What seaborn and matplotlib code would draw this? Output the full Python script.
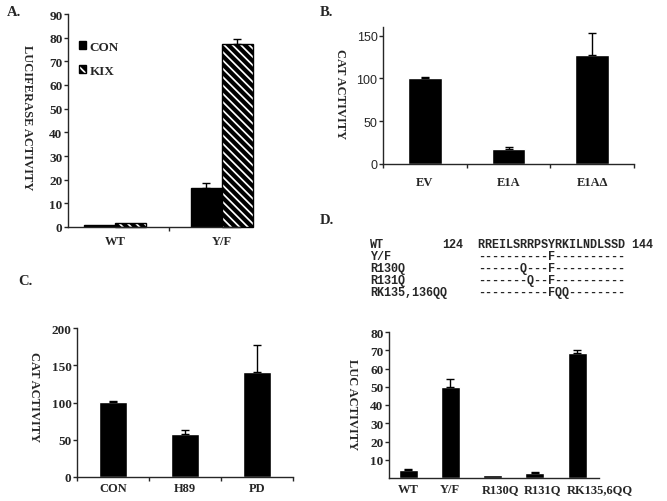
import matplotlib
matplotlib.use('Agg')
import matplotlib.pyplot as plt
import matplotlib.transforms as mtrans
import seaborn as sns
import pandas as pd

# ---- data ----
# Panel A
a_groups = ['WT', 'Y/F']
a_con = [1.0, 16.5]
a_con_err = [0.0, 2.0]
a_kix = [1.5, 77.3]
a_kix_err = [0.0, 2.3]

# Panel B
b_groups = ['EV', 'E1A', 'E1A\u0394']
b_vals = [100, 17, 127]
b_err = [2, 2.5, 26]

# Panel C
c_groups = ['CON', 'H89', 'PD']
c_vals = [100.5, 58, 140.5]
c_err = [1.5, 4.5, 37]

# Panel D
d_groups = ['WT', 'Y/F', 'R130Q', 'R131Q', 'RK135,6QQ']
d_vals = [4.2, 50, 1.6, 2.7, 68.5]
d_err = [0.5, 4, 0, 0.6, 1.8]

seq_names = ['WT', 'Y/F', 'R130Q', 'R131Q', 'RK135,136QQ']
seq_lines = ['RREILSRRPSYRKILNDLSSD 144',
             '----------F----------',
             '------Q---F----------',
             '-------Q--F----------',
             '----------FQQ--------']

sns.set_style('ticks')
plt.rcParams['font.family'] = ['Liberation Serif', 'DejaVu Serif']
plt.rcParams['font.weight'] = 'bold'
plt.rcParams['axes.linewidth'] = 1.0
plt.rcParams['hatch.linewidth'] = 3.0

W, H = 667, 502
fig = plt.figure(figsize=(W / 100, H / 100), dpi=100)


def box(left, top, right, bottom):
    return fig.add_axes([left / W, 1 - bottom / H, (right - left) / W, (bottom - top) / H])


def add_err(ax, container, errs):
    for bar, e in zip(container, errs):
        if e > 0:
            x = bar.get_x() + bar.get_width() / 2
            ax.errorbar(x, bar.get_height(), yerr=[[0], [e]], color='black',
                        lw=1, capsize=3, capthick=1, clip_on=False)


def style(ax, ylabel, lx, ly, tick_font, pad):
    sns.despine(ax=ax)
    ax.set_xlabel('')
    ax.set_ylabel(ylabel, rotation=270, fontsize=9, fontweight='bold',
                  ha='center', va='center')
    ax.yaxis.set_label_coords(lx, ly)
    ax.tick_params(axis='x', length=0, labelsize=9, pad=pad)
    ax.tick_params(axis='y', length=3, width=1, labelsize=tick_font[2], pad=1)
    for t in ax.get_xticklabels():
        t.set_fontweight('bold')
    for t in ax.get_yticklabels():
        t.set_fontfamily(tick_font[0])
        t.set_fontweight(tick_font[1])


# ---- Panel A ----
axA = box(68, 15, 256, 228)
dfA = pd.DataFrame({'group': a_groups * 2,
                    'treat': ['CON'] * 2 + ['KIX'] * 2,
                    'value': a_con + a_kix})
sns.barplot(data=dfA, x='group', y='value', hue='treat',
            palette={'CON': 'black', 'KIX': 'white'}, width=0.58,
            edgecolor='black', linewidth=1, errorbar=None, legend=False, ax=axA)
for bar in axA.containers[1]:
    bar.set_hatch('\\\\\\\\')
    bar.set_clip_on(False)
add_err(axA, axA.containers[0], a_con_err)
add_err(axA, axA.containers[1], a_kix_err)
axA.set_xlim(-0.44, 1.318)
axA.set_ylim(0, 90)
axA.set_yticks(range(0, 91, 10))
axA.spines['bottom'].set_bounds(-0.44, 1.17)
axA.set_xticks([0.5], minor=True)
axA.tick_params(axis='x', which='minor', length=3, width=1)
style(axA, 'LUCIFERASE ACTIVITY', -0.22, 0.52, ('Liberation Serif', 'bold', 9.5), 5.5)
axA.legend(handles=[axA.containers[0][0], axA.containers[1][0]],
           labels=['CON', 'KIX'], loc='upper left', bbox_to_anchor=(0.025, 0.905),
           frameon=False, borderpad=0, handlelength=0.5, handleheight=0.5,
           handletextpad=0.3, labelspacing=0.9,
           prop={'family': 'Liberation Serif', 'weight': 'bold', 'size': 9.5})

# ---- Panel B ----
axB = box(383, 28, 634, 165)
dfB = pd.DataFrame({'group': b_groups, 'value': b_vals})
sns.barplot(data=dfB, x='group', y='value', color='black', width=0.40,
            errorbar=None, ax=axB)
add_err(axB, axB.containers[0], b_err)
axB.set_xlim(-0.5, 2.5)
axB.set_ylim(0, 160)
axB.set_yticks([0, 50, 100, 150])
axB.set_xticks([-0.5, 0.5, 1.5, 2.5], minor=True)
axB.tick_params(axis='x', which='minor', length=3, width=1)
style(axB, 'CAT ACTIVITY', -0.17, 0.52, ('Liberation Sans', 'normal', 9), 9)

# ---- Panel C ----
axC = box(77, 329, 293, 478)
dfC = pd.DataFrame({'group': c_groups, 'value': c_vals})
sns.barplot(data=dfC, x='group', y='value', color='black', width=0.40,
            errorbar=None, ax=axC)
add_err(axC, axC.containers[0], c_err)
axC.set_xlim(-0.5, 2.5)
axC.set_ylim(0, 200)
axC.set_yticks([0, 50, 100, 150, 200])
axC.set_xticks([-0.5, 0.5, 1.5, 2.5], minor=True)
axC.tick_params(axis='x', which='minor', length=3, width=1)
style(axC, 'CAT ACTIVITY', -0.20, 0.54, ('Liberation Serif', 'bold', 9.5), 3.5)

# ---- Panel D ----
axD = box(389, 333, 599, 479)
dfD = pd.DataFrame({'group': d_groups, 'value': d_vals})
sns.barplot(data=dfD, x='group', y='value', color='black', width=0.45,
            errorbar=None, ax=axD)
add_err(axD, axD.containers[0], d_err)
axD.set_xlim(-0.45, 4.52)
axD.set_ylim(0, 80)
axD.set_yticks(range(10, 81, 10))
style(axD, 'LUC ACTIVITY', -0.175, 0.51, ('Liberation Serif', 'bold', 9.5), 3.5)
# labels start at the left edge of each bar
shift = mtrans.ScaledTranslation(-0.105, 0, fig.dpi_scale_trans)
for t in axD.get_xticklabels():
    t.set_horizontalalignment('left')
    t.set_transform(t.get_transform() + shift)

# sequence alignment above panel D
for i, (name, seq) in enumerate(zip(seq_names, seq_lines)):
    y = 1 - (245 + 12 * i) / H
    fig.text(370 / W, y, name, family='Liberation Mono', weight='bold',
             fontsize=8.5, va='center', ha='left')
    if i == 0:
        fig.text(442 / W, y, '124', family='Liberation Mono', weight='bold',
                 fontsize=8.5, va='center', ha='left')
    fig.text(478 / W, y, seq, family='Liberation Mono', weight='bold',
             fontsize=8.5, va='center', ha='left')

# panel letters
for lab, x, y in [('A.', 7, 13), ('B.', 320, 12), ('C.', 18, 282), ('D.', 320, 220)]:
    fig.text(x / W, 1 - y / H, lab, fontsize=10.5, fontweight='bold',
             va='center', ha='left')

fig.savefig('out.png', dpi=100)
